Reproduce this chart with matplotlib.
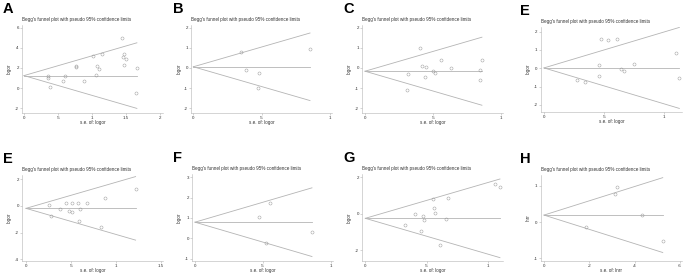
import numpy as np
import matplotlib
matplotlib.use("Agg")
import matplotlib.pyplot as plt

# ================== DATA ==================
TITLE = "Begg's funnel plot with pseudo 95% confidence limits"

a_se = [0.35, 0.35, 0.38, 0.57, 0.61, 0.77, 0.77, 0.88, 1.01, 1.07, 1.10, 1.06,
        1.14, 1.44, 1.46, 1.47, 1.50, 1.47, 1.66, 1.64]
a_logor = [1.17, 1.03, 0.10, 0.73, 1.23, 2.23, 2.10, 0.70, 3.23, 2.17, 1.87, 1.27,
           3.43, 4.93, 3.10, 3.43, 2.87, 2.33, 1.97, -0.47]
a_pooled = 1.24

b_se = [0.35, 0.385, 0.478, 0.473, 0.854]
b_logor = [0.77, -0.10, -0.26, -0.97, 0.92]
b_pooled = 0.06

c_se = [0.316, 0.311, 0.402, 0.419, 0.449, 0.439, 0.502, 0.512, 0.556, 0.635,
        0.846, 0.86, 0.846]
c_logor = [-0.31, -1.11, 1.00, 0.11, 0.05, -0.44, -0.16, -0.23, 0.39, 0.02,
           -0.10, 0.39, -0.59]
c_pooled = -0.16

d_se = [0.278, 0.342, 0.461, 0.461, 0.472, 0.53, 0.611, 0.639, 0.667, 0.75,
        1.097, 1.128]
d_logor = [-0.64, -0.76, 0.18, -0.42, 1.62, 1.56, 1.62, -0.04, -0.15, 0.22,
           0.82, -0.51]
d_pooled = 0.02

e_se = [0.261, 0.276, 0.373, 0.44, 0.478, 0.507, 0.515, 0.582, 0.604, 0.59,
        0.679, 0.873, 0.836, 1.216]
e_logor = [0.10, -0.75, -0.20, 0.25, -0.35, 0.25, -0.45, 0.20, -0.20, -1.15,
           0.25, 0.63, -1.55, 1.25]
e_pooled = -0.18

f_se = [0.474, 0.553, 0.521, 0.862]
f_logor = [1.05, 1.72, -0.25, 0.30]
f_pooled = 0.79

g_se = [0.327, 0.409, 0.452, 0.469, 0.48, 0.55, 0.561, 0.569, 0.61, 0.659,
        0.676, 1.063, 1.10]
g_logor = [-0.60, 0.00, -0.93, -0.15, -0.36, 0.82, 0.29, 0.05, -1.71, -0.31,
           0.87, 1.65, 1.49]
g_pooled = -0.25

h_se = [0.185, 0.315, 0.321, 0.432, 0.524]
h_lnrr = [-0.13, 0.76, 0.97, 0.20, -0.52]
h_pooled = 0.19

# ================== LAYOUT ==================
W, H = 685, 273
LINE = "#b4b4b4"
TXT = "#333333"

# letter, data, pooled, ylabel, axes rect in px (left, top, right, bottom), xlim, ylim, xticks, yticks
panels = [
    ("A", a_se, a_logor, a_pooled, "logor", (22, 25, 163, 113), (-0.029, 2.044), (-2.47, 6.26),
     [0, 0.5, 1, 1.5, 2], [-2, 0, 2, 4, 6]),
    ("B", b_se, b_logor, b_pooled, "logor", (191.3, 25, 332, 113), (-0.015, 1.015), (-2.23, 2.13),
     [0, 0.5, 1], [-2, -1, 0, 1, 2]),
    ("C", c_se, c_logor, c_pooled, "logor", (362, 25, 503, 113), (-0.022, 1.015), (-2.23, 2.13),
     [0, 0.5, 1], [-2, -1, 0, 1, 2]),
    ("E", d_se, d_logor, d_pooled, "logor", (540.7, 26.7, 682, 111.7), (-0.0275, 1.15), (-2.37, 2.27),
     [0, 0.5, 1], [-2, -1, 0, 1, 2]),
    ("E", e_se, e_logor, e_pooled, "logor", (22, 175.3, 163, 261), (-0.044, 1.52), (-4.13, 2.30),
     [0, 0.5, 1, 1.5], [-4, -2, 0, 2]),
    ("F", f_se, f_logor, f_pooled, "logor", (192, 174, 333, 261), (-0.022, 1.017), (-1.12, 3.16),
     [0, 0.5, 1], [-1, 0, 1, 2, 3]),
    ("G", g_se, g_logor, g_pooled, "logor", (362, 174, 503, 261), (-0.027, 1.125), (-2.59, 2.18),
     [0, 0.5, 1], [-2, 0, 2]),
    ("H", h_se, h_lnrr, h_pooled, "lnrr", (540.7, 175, 682, 261), (-0.0146, 0.609), (-1.07, 1.29),
     [0, 0.2, 0.4, 0.6], [-1, 0, 1]),
]


def stata_fmt(v):
    # Stata style: .5 instead of 0.5
    s = f"{v:g}"
    if s.startswith("0."):
        s = s[1:]
    elif s.startswith("-0."):
        s = "-" + s[2:]
    return s


plt.rcParams["font.family"] = ["Liberation Sans", "DejaVu Sans"]

fig = plt.figure(figsize=(W / 100, H / 100), dpi=100)
fig.patch.set_facecolor("white")

for letter, se, est, pooled, ylab, (l, t, r, b), xlim, ylim, xt, yt in panels:
    ax = fig.add_axes([l / W, 1 - b / H, (r - l) / W, (b - t) / H])
    se = np.asarray(se)
    est = np.asarray(est)
    smax = se.max()

    # pooled estimate and pseudo 95% limits
    ax.plot([0, smax], [pooled, pooled], color=LINE, lw=0.6)
    ax.plot([0, smax], [pooled, pooled + 1.96 * smax], color=LINE, lw=0.6)
    ax.plot([0, smax], [pooled, pooled - 1.96 * smax], color=LINE, lw=0.6)
    ax.plot(se, est, "o", ms=2.2, mfc="none", mec="#999999", mew=0.35)

    ax.set_xlim(*xlim)
    ax.set_ylim(*ylim)
    ax.set_xticks(xt)
    ax.set_yticks(yt)
    ax.set_xticklabels([stata_fmt(v) for v in xt])
    ax.set_yticklabels([stata_fmt(v) for v in yt])
    ax.tick_params(length=1.5, width=0.4, color=LINE, labelsize=3.2, pad=0.8, labelcolor=TXT)
    for side in ("top", "right"):
        ax.spines[side].set_visible(False)
    for side in ("left", "bottom"):
        ax.spines[side].set_color(LINE)
        ax.spines[side].set_linewidth(0.4)
    ax.set_xlabel("s.e. of: " + ylab, fontsize=3.3, labelpad=0.2, color=TXT)
    ax.set_ylabel(ylab, fontsize=3.3, labelpad=2, color=TXT)
    ax.patch.set_alpha(0)

    # title and panel letter
    fig.text(l / W, 1 - (t - 3) / H, TITLE, fontsize=3.3, color=TXT, va="bottom", ha="left")
    ox = 3 if l < 100 else (l - 18.5 if l < 500 else l - 20.5)
    fig.text(ox / W, 1 - (t - 9) / H, letter, fontsize=10.5, fontweight="bold",
             va="bottom", ha="left", color="black")

fig.savefig("out.png", dpi=100)
